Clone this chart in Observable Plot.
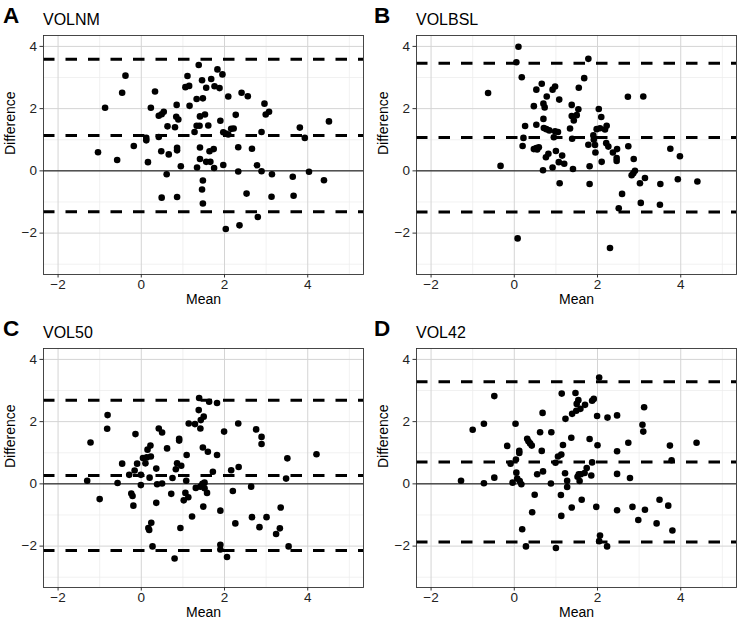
<!DOCTYPE html>
<html>
<head>
<meta charset="utf-8">
<script src="https://cdn.jsdelivr.net/npm/d3@7"></script>
<script src="https://cdn.jsdelivr.net/npm/@observablehq/plot@0.6"></script>
<style>
  html, body { margin: 0; padding: 0; background: white; }
  #wrap { position: relative; width: 742px; height: 625px; font-family: "Liberation Sans", Arial, Helvetica, sans-serif; }
  .panel { position: absolute; width: 371px; height: 308px; }
  .panel svg { position: absolute; left: 0; top: 0; }
  .letter { position: absolute; font-weight: bold; font-size: 22.5px; line-height: 22px; top: 5px; color: black; }
  .title { position: absolute; font-size: 16px; line-height: 16px; top: 11.5px; color: black; }
</style>
</head>
<body>
<div id="wrap"></div>
<script>
// Axis ticks
const xTicks = [-2, 0, 2, 4];
const xMinor = [-1, 1, 3, 5];
const yTicks = [-2, 0, 2, 4];
const yMinor = [-3, -1, 1, 3];
const xDomain = [-2.35, 5.34];
const yDomain = [-3.33, 4.35];

// Panel labels
const panelLetters = ["A", "B", "C", "D"];
const panelTitles = ["VOLNM", "VOLBSL", "VOL50", "VOL42"];

// Limits of agreement: upper, mean difference, lower
const volnmLimits = [3.59, 1.14, -1.31];
const volbslLimits = [3.46, 1.07, -1.32];
const vol50Limits = [2.69, 0.27, -2.14];
const vol42Limits = [3.28, 0.70, -1.87];

// VOLNM
const volnmMean = [
  -1.04,-0.87,-0.58,-0.46,-0.38,-0.18,0.12,0.12,0.16,0.23,
  0.33,0.42,0.42,0.49,0.54,0.48,0.49,0.61,0.63,0.66,
  0.81,0.84,0.89,0.85,0.86,0.86,0.86,0.95,1.06,1.15,
  1.11,1.16,1.28,1.33,1.33,1.40,1.38,1.41,1.41,1.34,
  1.41,1.46,1.48,1.53,1.48,1.46,1.48,1.56,1.61,1.56,
  1.66,1.64,1.74,1.68,1.76,1.75,1.83,1.88,1.90,1.95,
  1.97,1.97,2.03,2.09,2.09,2.16,2.22,2.03,2.27,2.33,
  2.33,2.36,2.41,2.53,2.56,2.66,2.78,2.80,2.89,2.89,
  2.96,2.99,3.07,3.14,3.13,3.64,3.66,3.81,3.93,4.03,
  4.39,4.51];
const volnmDiff = [
  0.60,2.03,0.35,2.51,3.06,0.80,1.06,0.98,0.28,2.03,
  2.55,1.09,1.77,1.82,1.90,0.63,-0.86,-0.11,1.43,0.53,
  1.40,1.74,1.65,2.12,0.74,0.66,-0.84,0.15,2.69,2.73,
  3.05,2.09,1.25,2.31,1.45,1.45,3.40,1.75,0.75,0.11,
  0.38,2.91,2.33,1.81,-0.31,-0.60,-1.05,2.67,1.46,0.29,
  0.29,0.63,0.70,2.95,2.72,0.09,3.26,2.66,1.61,3.10,
  1.24,0.19,1.20,1.17,2.39,1.35,1.36,-1.87,1.80,0.76,
  -0.02,-1.75,2.51,-0.73,2.40,0.71,0.18,-1.48,1.25,-0.01,
  2.16,1.81,1.90,-0.11,-0.83,-0.19,-0.80,1.39,1.06,-0.03,
  -0.30,1.59];

// VOLBSL
const volbslMean = [
  -0.63,-0.33,0.10,0.05,0.18,0.08,0.26,0.22,0.20,0.47,
  0.53,0.53,0.47,0.53,0.59,0.55,0.66,0.70,0.73,0.70,
  0.71,0.77,0.78,0.84,0.69,0.76,0.82,0.92,0.98,0.98,
  1.05,0.95,1.00,0.92,1.08,1.07,1.15,1.20,1.09,1.34,
  1.38,1.38,1.43,1.50,1.54,1.39,1.41,1.55,1.68,1.78,
  1.78,1.81,1.81,1.90,1.91,1.94,1.95,1.98,2.03,2.06,
  2.09,2.10,2.18,2.22,2.21,2.26,2.30,2.37,2.47,2.46,
  2.46,2.51,2.59,2.73,2.74,2.87,2.90,2.86,2.82,3.02,
  3.04,3.10,3.14,3.51,3.50,3.75,3.93,3.98,4.40];
const volbslDiff = [
  2.50,0.16,3.99,3.49,3.01,-2.17,1.44,1.06,0.80,2.08,
  2.61,1.48,0.70,0.73,0.76,0.69,2.80,2.16,2.04,1.67,
  1.38,1.34,2.39,1.30,0.02,0.44,0.55,2.61,2.71,1.27,
  1.25,1.08,0.64,0.11,2.29,0.28,0.49,0.23,-0.40,1.36,
  2.12,1.76,1.62,1.79,1.98,1.03,0.06,2.67,2.98,3.60,
  0.84,0.15,-0.42,1.14,1.00,0.83,0.59,1.34,1.99,1.37,
  1.73,0.29,1.33,1.45,0.89,0.78,-2.48,0.59,0.70,0.41,
  0.32,-1.20,-0.74,2.38,0.79,0.38,0.00,-0.08,-0.14,-0.40,
  -1.03,2.39,-0.23,-0.42,-1.09,0.71,-0.27,0.47,-0.34];

// VOL50
const vol50Mean = [
  -1.30,-1.22,-1.00,-0.81,-0.82,-0.57,-0.46,-0.29,-0.24,-0.21,
  -0.19,-0.14,-0.16,-0.10,-0.01,-0.01,0.04,0.10,0.13,0.15,
  0.22,0.23,0.20,0.17,0.19,0.24,0.27,0.36,0.38,0.36,
  0.42,0.50,0.50,0.62,0.72,0.75,0.83,0.86,0.80,0.91,
  0.91,0.96,0.94,1.02,1.06,1.09,1.08,1.13,1.14,1.22,
  1.29,1.31,1.38,1.39,1.42,1.43,1.42,1.47,1.48,1.52,
  1.52,1.50,1.49,1.58,1.60,1.63,1.72,1.82,1.82,1.90,
  1.90,1.90,1.99,2.06,2.16,2.20,2.26,2.33,2.34,2.64,
  2.66,2.76,2.84,2.89,2.89,3.01,3.24,3.33,3.35,3.48,
  3.51,3.54,4.21];
const vol50Diff = [
  0.10,1.33,-0.49,2.21,1.77,0.03,0.65,0.29,-0.31,-0.39,
  -0.70,1.60,0.43,0.65,0.29,-0.04,0.83,0.66,0.85,1.10,
  1.23,0.88,0.20,-1.42,-1.48,-1.25,-2.01,0.49,-0.01,-0.61,
  1.78,1.65,0.01,1.14,-0.32,0.19,0.47,0.66,-2.40,1.45,
  1.39,0.58,-1.42,-0.53,-0.29,0.93,0.10,-0.43,1.94,-1.05,
  1.92,-0.13,2.37,2.76,1.78,2.05,-0.09,0.00,1.17,0.04,
  -0.14,2.16,-0.73,-0.29,1.03,2.64,0.39,2.60,0.93,-0.86,
  -1.96,-2.11,1.68,-2.35,0.44,-0.23,-1.27,1.94,0.54,-0.09,
  -1.07,1.75,-1.39,1.51,1.28,-1.07,-1.61,-1.43,-0.76,0.17,
  0.82,-2.01,0.95];

// VOL42
const vol42Mean = [
  -1.28,-1.00,-0.73,-0.73,-0.48,-0.48,-0.17,-0.09,-0.04,0.03,
  0.04,0.05,0.07,0.12,0.12,0.13,0.17,0.19,0.28,0.31,
  0.34,0.38,0.42,0.49,0.43,0.55,0.62,0.66,0.68,0.69,
  0.88,0.89,0.99,1.05,1.00,1.13,1.12,1.13,1.14,1.17,
  1.22,1.23,1.27,1.27,1.37,1.38,1.39,1.47,1.49,1.50,
  1.54,1.59,1.52,1.55,1.57,1.60,1.62,1.69,1.70,1.74,
  1.81,1.85,1.87,1.87,1.91,1.97,1.99,2.00,2.04,2.06,
  2.04,2.23,2.24,2.47,2.47,2.47,2.47,2.74,2.78,2.84,
  2.98,3.08,3.10,3.12,3.14,3.42,3.49,3.70,3.74,3.78,
  3.80,4.38];
const vol42Diff = [
  0.10,1.74,1.93,0.02,2.82,0.20,1.22,0.65,0.04,1.93,
  0.78,0.36,0.17,1.06,0.99,0.09,-0.01,-1.46,-2.01,1.45,
  1.37,1.30,1.23,-0.35,-0.91,0.31,1.66,1.06,2.28,0.40,
  0.01,1.66,0.68,0.88,-2.06,0.94,-0.36,-1.03,2.90,1.25,
  0.34,2.09,0.10,-0.10,1.48,-0.76,2.25,2.92,2.35,2.57,
  2.69,2.41,0.23,0.31,0.09,0.31,-0.51,0.35,2.54,0.51,
  1.44,0.27,0.69,2.67,2.73,-0.74,2.18,1.24,3.42,-1.66,
  -1.84,-2.01,2.13,2.20,1.05,0.32,-0.85,1.32,0.19,-0.74,
  -1.16,1.90,1.68,2.46,-0.83,-1.27,-0.51,-0.70,1.23,0.76,
  -1.50,1.32];

const panelMeans = [volnmMean, volbslMean, vol50Mean, vol42Mean];
const panelDiffs = [volnmDiff, volbslDiff, vol50Diff, vol42Diff];
const panelLimits = [volnmLimits, volbslLimits, vol50Limits, vol42Limits];

const wrap = document.getElementById("wrap");

function makePanel(i) {
  const col = i % 2, row = Math.floor(i / 2);
  const left = col === 0 ? 0 : 371;
  const top = row === 0 ? 0 : 313;
  const ml = col === 0 ? 43 : 45;
  const mr = col === 0 ? 8 : 6;
  const data = panelMeans[i].map((m, k) => ({mean: m, diff: panelDiffs[i][k]}));

  const svg = Plot.plot({
    width: 371,
    height: 308,
    marginTop: 35,
    marginBottom: 34,
    marginLeft: ml,
    marginRight: mr,
    x: {domain: xDomain},
    y: {domain: yDomain},
    style: {
      fontFamily: '"Liberation Sans", Arial, Helvetica, sans-serif',
      fontSize: "13.5px",
      color: "#333",
      background: "white",
      overflow: "visible"
    },
    marks: [
      Plot.gridX({ticks: xMinor, stroke: "#ebebeb", strokeOpacity: 1, strokeWidth: 0.7}),
      Plot.gridY({ticks: yMinor, stroke: "#ebebeb", strokeOpacity: 1, strokeWidth: 0.7}),
      Plot.gridX({ticks: xTicks, stroke: "#d4d4d4", strokeOpacity: 1, strokeWidth: 1}),
      Plot.gridY({ticks: yTicks, stroke: "#d4d4d4", strokeOpacity: 1, strokeWidth: 1}),
      Plot.ruleY([0], {stroke: "black", strokeWidth: 1}),
      Plot.ruleY(panelLimits[i], {stroke: "black", strokeWidth: 3, strokeDasharray: "11.5,11"}),
      Plot.dot(data, {x: "mean", y: "diff", r: 3.3, fill: "black", stroke: null}),
      Plot.frame({stroke: "#333", strokeWidth: 0.9}),
      Plot.axisX({ticks: xTicks, tickSize: 3.5, tickPadding: 1.5, label: null, fontSize: 13.5, fill: "#222"}),
      Plot.axisY({ticks: yTicks, tickSize: 3.5, tickPadding: 3, label: null, fontSize: 13.5, fill: "#222"}),
      Plot.text(["Mean"], {text: d => d, frameAnchor: "bottom", dy: 20, lineAnchor: "top", fontSize: 14, fill: "black"}),
      Plot.text(["Difference"], {text: d => d, frameAnchor: "left", dx: -33, rotate: -90, fontSize: 14, fill: "black"})
    ]
  });

  const div = document.createElement("div");
  div.className = "panel";
  div.style.left = left + "px";
  div.style.top = top + "px";
  div.appendChild(svg);

  const letter = document.createElement("div");
  letter.className = "letter";
  letter.style.left = "3px";
  letter.textContent = panelLetters[i];
  div.appendChild(letter);

  const title = document.createElement("div");
  title.className = "title";
  title.style.left = ml + "px";
  title.textContent = panelTitles[i];
  div.appendChild(title);

  wrap.appendChild(div);
}

for (let i = 0; i < 4; i++) makePanel(i);
</script>
</body>
</html>
